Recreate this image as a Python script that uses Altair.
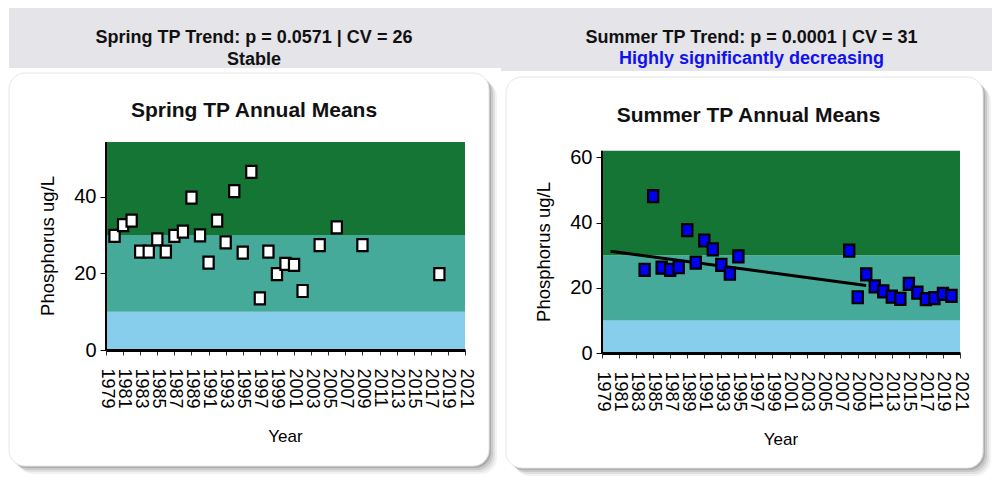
import altair as alt
import pandas as pd

# ---------------- data ----------------
spring_years = [1980, 1981, 1982, 1983, 1984, 1985, 1986, 1987, 1988, 1989, 1990,
                1991, 1992, 1993, 1994, 1995, 1996, 1997, 1998, 1999, 2000, 2001,
                2002, 2004, 2006, 2009, 2018]
spring_tp = [29.8, 32.6, 33.8, 25.7, 25.7, 28.9, 25.7, 29.8, 30.9, 39.8, 29.9,
             22.8, 33.8, 28.1, 41.5, 25.4, 46.5, 13.5, 25.7, 19.8, 22.5, 22.2,
             15.4, 27.4, 32.0, 27.4, 19.8]

summer_years = [1984, 1985, 1986, 1987, 1988, 1989, 1990, 1991, 1992, 1993, 1994,
                1995, 2008, 2009, 2010, 2011, 2012, 2013, 2014, 2015, 2016, 2017,
                2018, 2019, 2020]
summer_tp = [25.5, 48.1, 26.2, 25.5, 26.3, 37.7, 27.7, 34.5, 31.8, 27.0, 24.3,
             29.6, 31.4, 17.1, 24.1, 20.4, 18.9, 17.3, 16.6, 21.2, 18.5, 16.5,
             16.8, 18.1, 17.5]

summer_trend_years = [1980, 2010]
summer_trend_tp = [31.2, 20.7]

band_lo = [0, 10, 30]
spring_band_hi = [10, 30, 54.3]
summer_band_hi = [10, 30, 62]
band_colors = ["#87cdec", "#45aa9a", "#157534"]

x_domain = [1979, 2021]
x_ticks = list(range(1979, 2022, 2))
spring_y_ticks = [0, 20, 40]
summer_y_ticks = [0, 20, 40, 60]

# ---------------- styling ----------------
FONT = "Liberation Sans"
SHAPE = "M-0.85,-1L0.85,-1L0.85,1L-0.85,1Z"


def deco_rect(x, x2, y, y2, **kw):
    return alt.Chart(alt.Data(values=[{}])).mark_rect(**kw).encode(
        x=alt.value(x), x2=alt.value(x2), y=alt.value(y), y2=alt.value(y2))


def deco_text(txt, x, y, **kw):
    return alt.Chart(alt.Data(values=[{}])).mark_text(text=txt, **kw).encode(
        x=alt.value(x), y=alt.value(y))


def panel(years, values, fill, band_hi, ymax, yticks, W, H, hdr, card,
          head1, head2, head2_color, head_x, head_y1, head_y2,
          title, title_x, title_y, ytitle_y, xtitle_y, trend=None):
    xs = alt.Scale(domain=x_domain, nice=False, zero=False)
    ys = alt.Scale(domain=[0, ymax], nice=False, zero=True)

    yaxis = alt.Axis(values=yticks, title=None, domain=False, grid=False,
                     labelFont=FONT, labelFontSize=20, labelColor="black",
                     tickColor="black", tickSize=6, tickWidth=1,
                     labelPadding=4, zindex=1)
    xaxis = alt.Axis(values=x_ticks, format="d", title=None, grid=False,
                     labelAngle=90, labelAlign="left", labelBaseline="middle",
                     labelFont=FONT, labelFontSize=18, labelColor="black",
                     labelOverlap=False, labelFlush=False,
                     tickColor="#333333", tickSize=5, tickWidth=1,
                     labelPadding=13, domainColor="black", domainWidth=3,
                     zindex=1)

    layers = []
    layers.append(deco_rect(hdr[0], hdr[1], hdr[2], hdr[3], color="#e4e4e9"))
    cx0, cx1, cy0, cy1 = card
    for off, op in [(8, 0.05), (6, 0.07), (4, 0.1), (2, 0.14)]:
        layers.append(deco_rect(cx0 + off, cx1 + off, cy0 + off, cy1 + off,
                                color="black", opacity=op, cornerRadius=16))
    layers.append(deco_rect(cx0, cx1, cy0, cy1, color="white", cornerRadius=16,
                            stroke="#e6e6e6", strokeWidth=1))
    layers.append(deco_text(head1, head_x, head_y1, font=FONT, fontSize=18,
                            fontWeight="bold", color="#111111", align="center",
                            baseline="alphabetic"))
    layers.append(deco_text(head2, head_x, head_y2, font=FONT, fontSize=18,
                            fontWeight="bold", color=head2_color, align="center",
                            baseline="alphabetic"))
    layers.append(deco_text(title, title_x, title_y, font=FONT, fontSize=21,
                            fontWeight="bold", color="#111111", align="center",
                            baseline="alphabetic"))
    layers.append(deco_text("Phosphorus ug/L", -58, ytitle_y, font=FONT,
                            fontSize=18.5, color="black", angle=270,
                            align="center", baseline="middle"))
    layers.append(deco_text("Year", W / 2, xtitle_y, font=FONT, fontSize=17,
                            color="black", align="center", baseline="top"))

    band_df = pd.DataFrame({"lo": band_lo, "hi": band_hi, "c": band_colors})
    layers.append(alt.Chart(band_df).mark_rect().encode(
        x=alt.value(0), x2=alt.value(W),
        y=alt.Y("lo:Q", scale=ys, axis=yaxis), y2="hi:Q",
        color=alt.Color("c:N", scale=None)))

    layers.append(alt.Chart(pd.DataFrame({"lo": [0], "hi": [band_hi[-1]]}))
                  .mark_rule(color="black", strokeWidth=2)
                  .encode(x=alt.value(0), y=alt.Y("lo:Q", scale=ys, axis=yaxis),
                          y2="hi:Q"))

    if trend is not None:
        tdf = pd.DataFrame({"year": trend[0], "tp": trend[1]})
        layers.append(alt.Chart(tdf).mark_line(color="black", strokeWidth=3)
                      .encode(x=alt.X("year:Q", scale=xs, axis=xaxis),
                              y=alt.Y("tp:Q", scale=ys, axis=yaxis)))

    pdf = pd.DataFrame({"year": years, "tp": values})
    layers.append(alt.Chart(pdf).mark_point(
        shape=SHAPE, size=144, filled=True, fill=fill, stroke="black",
        strokeWidth=2.2, opacity=1, fillOpacity=1).encode(
        x=alt.X("year:Q", scale=xs, axis=xaxis),
        y=alt.Y("tp:Q", scale=ys, axis=yaxis)))

    return alt.layer(*layers).properties(width=W, height=H)


left = panel(spring_years, spring_tp, "white", spring_band_hi, 54.3,
             spring_y_ticks, 359, 208,
             hdr=(-97, 395, -134, -74), card=(-97, 383, -69, 324),
             head1="Spring TP Trend: p = 0.0571 | CV = 26", head2="Stable",
             head2_color="#111111", head_x=148, head_y1=-99, head_y2=-77,
             title="Spring TP Annual Means", title_x=148, title_y=-25,
             ytitle_y=104, xtitle_y=287)

right = panel(summer_years, summer_tp, "#0000f0", summer_band_hi, 64.7,
              summer_y_ticks, 358, 211,
              hdr=(-101, 390, -134, -71), card=(-96, 381, -65, 326),
              head1="Summer TP Trend: p = 0.0001 | CV = 31",
              head2="Highly significantly decreasing",
              head2_color="#1111ee", head_x=149.5, head_y1=-98.7, head_y2=-78,
              title="Summer TP Annual Means", title_x=146.5, title_y=-20.5,
              ytitle_y=110, xtitle_y=289.5,
              trend=(summer_trend_years, summer_trend_tp))

chart = alt.hconcat(left, right, spacing=137, bounds="flush").configure_view(
    stroke=None).properties(padding=0, background="white")

chart.save("out.html", embed_options={"renderer": "svg", "actions": False})
